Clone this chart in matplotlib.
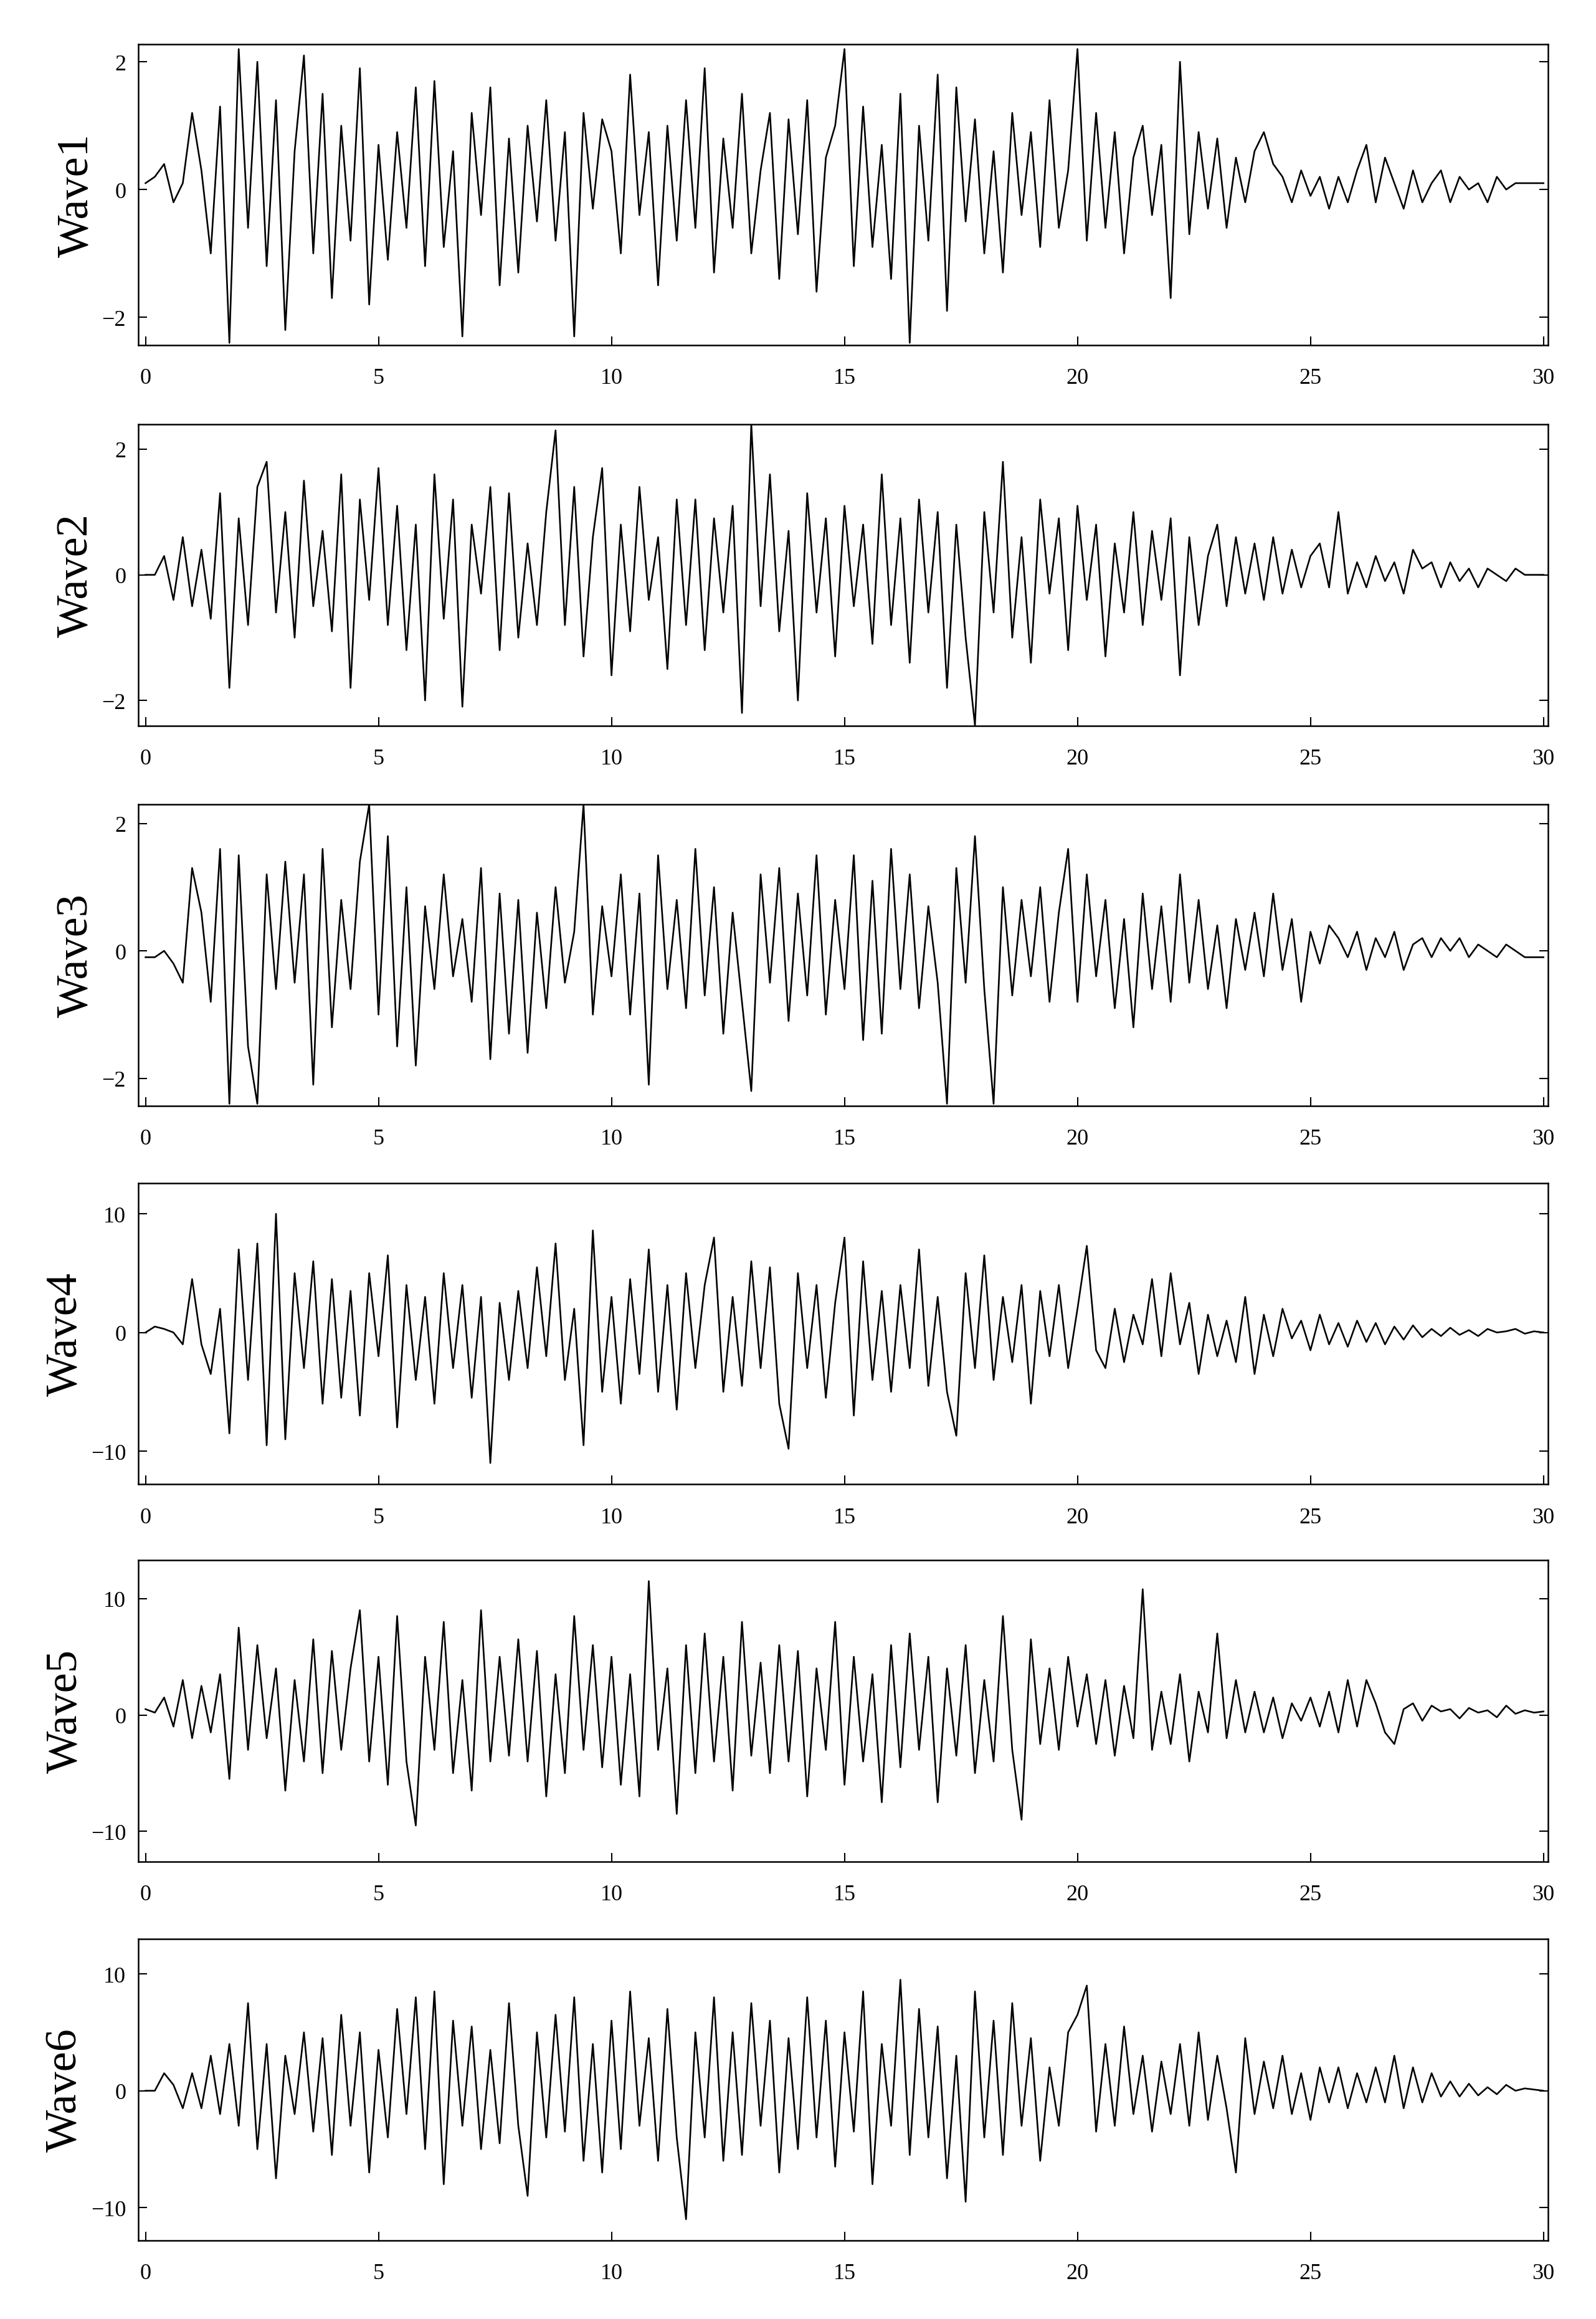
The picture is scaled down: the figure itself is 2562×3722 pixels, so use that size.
import numpy as np
import matplotlib.pyplot as plt

t = np.round(np.arange(0, 30.01, 0.2), 2)

wave1 = [0.1,0.2,0.4,-0.2,0.1,1.2,0.3,-1.0,1.3,-2.4,
         2.2,-0.6,2.0,-1.2,1.4,-2.2,0.6,2.1,-1.0,1.5,
         -1.7,1.0,-0.8,1.9,-1.8,0.7,-1.1,0.9,-0.6,1.6,
         -1.2,1.7,-0.9,0.6,-2.3,1.2,-0.4,1.6,-1.5,0.8,
         -1.3,1.0,-0.5,1.4,-0.8,0.9,-2.3,1.2,-0.3,1.1,
         0.6,-1.0,1.8,-0.4,0.9,-1.5,1.0,-0.8,1.4,-0.6,
         1.9,-1.3,0.8,-0.6,1.5,-1.0,0.3,1.2,-1.4,1.1,
         -0.7,1.4,-1.6,0.5,1.0,2.2,-1.2,1.3,-0.9,0.7,
         -1.4,1.5,-2.4,1.0,-0.8,1.8,-1.9,1.6,-0.5,1.1,
         -1.0,0.6,-1.3,1.2,-0.4,0.9,-0.9,1.4,-0.6,0.3,
         2.2,-0.8,1.2,-0.6,0.9,-1.0,0.5,1.0,-0.4,0.7,
         -1.7,2.0,-0.7,0.9,-0.3,0.8,-0.6,0.5,-0.2,0.6,
         0.9,0.4,0.2,-0.2,0.3,-0.1,0.2,-0.3,0.2,-0.2,
         0.3,0.7,-0.2,0.5,0.1,-0.3,0.3,-0.2,0.1,0.3,
         -0.2,0.2,0.0,0.1,-0.2,0.2,0.0,0.1,0.1,0.1,
         0.1]
wave2 = [0.0,0.0,0.3,-0.4,0.6,-0.5,0.4,-0.7,1.3,-1.8,
         0.9,-0.8,1.4,1.8,-0.6,1.0,-1.0,1.5,-0.5,0.7,
         -0.9,1.6,-1.8,1.2,-0.4,1.7,-0.8,1.1,-1.2,0.8,
         -2.0,1.6,-0.7,1.2,-2.1,0.8,-0.3,1.4,-1.2,1.3,
         -1.0,0.5,-0.8,1.0,2.3,-0.8,1.4,-1.3,0.6,1.7,
         -1.6,0.8,-0.9,1.4,-0.4,0.6,-1.5,1.2,-0.8,1.2,
         -1.2,0.9,-0.6,1.1,-2.2,2.4,-0.5,1.6,-0.9,0.7,
         -2.0,1.3,-0.6,0.9,-1.3,1.1,-0.5,0.8,-1.1,1.6,
         -0.8,0.9,-1.4,1.2,-0.6,1.0,-1.8,0.8,-1.0,-2.4,
         1.0,-0.6,1.8,-1.0,0.6,-1.4,1.2,-0.3,0.9,-1.2,
         1.1,-0.4,0.8,-1.3,0.5,-0.6,1.0,-0.8,0.7,-0.4,
         0.9,-1.6,0.6,-0.8,0.3,0.8,-0.5,0.6,-0.3,0.5,
         -0.4,0.6,-0.3,0.4,-0.2,0.3,0.5,-0.2,1.0,-0.3,
         0.2,-0.2,0.3,-0.1,0.2,-0.3,0.4,0.1,0.2,-0.2,
         0.2,-0.1,0.1,-0.2,0.1,0.0,-0.1,0.1,0.0,0.0,
         0.0]
wave3 = [-0.1,-0.1,0.0,-0.2,-0.5,1.3,0.6,-0.8,1.6,-2.4,
         1.5,-1.5,-2.4,1.2,-0.6,1.4,-0.5,1.2,-2.1,1.6,
         -1.2,0.8,-0.6,1.4,2.3,-1.0,1.8,-1.5,1.0,-1.8,
         0.7,-0.6,1.2,-0.4,0.5,-0.8,1.3,-1.7,0.9,-1.3,
         0.8,-1.6,0.6,-0.9,1.0,-0.5,0.3,2.3,-1.0,0.7,
         -0.4,1.2,-1.0,0.9,-2.1,1.5,-0.6,0.8,-0.9,1.6,
         -0.7,1.0,-1.3,0.6,-0.8,-2.2,1.2,-0.5,1.3,-1.1,
         0.9,-0.7,1.5,-1.0,0.8,-0.6,1.5,-1.4,1.1,-1.3,
         1.6,-0.6,1.2,-0.9,0.7,-0.5,-2.4,1.3,-0.5,1.8,
         -0.6,-2.4,1.0,-0.7,0.8,-0.4,1.0,-0.8,0.6,1.6,
         -0.8,1.2,-0.4,0.8,-0.9,0.5,-1.2,0.9,-0.6,0.7,
         -0.8,1.2,-0.5,0.8,-0.6,0.4,-0.9,0.5,-0.3,0.6,
         -0.4,0.9,-0.3,0.5,-0.8,0.3,-0.2,0.4,0.2,-0.1,
         0.3,-0.3,0.2,-0.1,0.3,-0.3,0.1,0.2,-0.1,0.2,
         0.0,0.2,-0.1,0.1,0.0,-0.1,0.1,0.0,-0.1,-0.1,
         -0.1]
wave4 = [0.0,0.5,0.3,0.0,-1.0,4.5,-1.0,-3.5,2.0,-8.5,
         7.0,-4.0,7.5,-9.5,10.0,-9.0,5.0,-3.0,6.0,-6.0,
         4.5,-5.5,3.5,-7.0,5.0,-2.0,6.5,-8.0,4.0,-4.0,
         3.0,-6.0,5.0,-3.0,4.0,-5.5,3.0,-11.0,2.5,-4.0,
         3.5,-3.0,5.5,-2.0,7.5,-4.0,2.0,-9.5,8.6,-5.0,
         3.0,-6.0,4.5,-3.5,7.0,-5.0,4.0,-6.5,5.0,-3.0,
         4.0,8.0,-5.0,3.0,-4.5,6.0,-3.0,5.5,-6.0,-9.8,
         5.0,-3.0,4.0,-5.5,2.5,8.0,-7.0,6.0,-4.0,3.5,
         -5.0,4.0,-3.0,7.0,-4.5,3.0,-5.0,-8.7,5.0,-3.0,
         6.5,-4.0,3.0,-2.5,4.0,-6.0,3.5,-2.0,4.0,-3.0,
         2.0,7.3,-1.5,-3.0,2.0,-2.5,1.5,-1.0,4.5,-2.0,
         5.0,-1.0,2.5,-3.5,1.5,-2.0,1.0,-2.5,3.0,-3.5,
         1.5,-2.0,2.0,-0.5,1.0,-1.5,1.5,-1.0,0.8,-1.2,
         1.0,-0.8,0.8,-1.0,0.5,-0.6,0.6,-0.4,0.3,-0.3,
         0.4,-0.2,0.2,-0.3,0.3,0.0,0.1,0.3,-0.1,0.1,
         0.0]
wave5 = [0.5,0.2,1.5,-1.0,3.0,-2.0,2.5,-1.5,3.5,-5.5,
         7.5,-3.0,6.0,-2.0,4.0,-6.5,3.0,-4.0,6.5,-5.0,
         5.5,-3.0,4.0,9.0,-4.0,5.0,-6.0,8.5,-4.0,-9.5,
         5.0,-3.0,8.0,-5.0,3.0,-6.5,9.0,-4.0,5.0,-3.5,
         6.5,-4.0,5.5,-7.0,3.5,-5.0,8.5,-3.0,6.0,-4.5,
         5.0,-6.0,3.5,-7.0,11.5,-3.0,4.0,-8.5,6.0,-5.0,
         7.0,-4.0,5.0,-6.5,8.0,-3.5,4.5,-5.0,6.0,-4.0,
         5.5,-7.0,4.0,-3.0,8.0,-6.0,5.0,-4.0,3.5,-7.5,
         6.0,-4.5,7.0,-3.0,5.0,-7.5,4.0,-3.5,6.0,-5.0,
         3.0,-4.0,8.5,-3.0,-9.0,6.5,-2.5,4.0,-3.0,5.0,
         -1.0,3.5,-2.5,3.0,-3.5,2.5,-2.0,10.8,-3.0,2.0,
         -2.5,3.5,-4.0,2.0,-1.5,7.0,-2.0,3.0,-1.5,2.0,
         -1.5,1.5,-2.0,1.0,-0.5,1.5,-1.0,2.0,-1.5,3.0,
         -1.0,3.0,1.0,-1.5,-2.5,0.5,1.0,-0.5,0.8,0.3,
         0.5,-0.3,0.6,0.2,0.4,-0.2,0.8,0.1,0.4,0.2,
         0.3]
wave6 = [0.0,0.0,1.5,0.5,-1.5,1.5,-1.5,3.0,-2.0,4.0,
         -3.0,7.5,-5.0,4.0,-7.5,3.0,-2.0,5.0,-3.5,4.5,
         -5.5,6.5,-3.0,5.0,-7.0,3.5,-4.0,7.0,-2.0,8.0,
         -5.0,8.5,-8.0,6.0,-3.0,5.5,-5.0,3.5,-4.5,7.5,
         -3.0,-9.0,5.0,-4.0,6.5,-3.5,8.0,-6.0,4.0,-7.0,
         6.0,-5.0,8.5,-3.0,4.5,-6.0,7.0,-4.0,-11.0,5.0,
         -4.0,8.0,-6.0,5.0,-5.5,7.5,-3.0,6.0,-7.0,4.5,
         -5.0,8.0,-4.0,6.0,-6.5,5.0,-3.5,8.5,-8.0,4.0,
         -3.0,9.5,-5.5,7.0,-4.0,5.5,-7.5,3.0,-9.5,8.5,
         -4.0,6.0,-5.5,7.5,-3.0,4.5,-6.0,2.0,-3.0,5.0,
         6.5,9.0,-3.5,4.0,-3.0,5.5,-2.0,3.0,-3.5,2.5,
         -2.0,4.0,-3.0,5.0,-2.5,3.0,-1.5,-7.0,4.5,-2.0,
         2.5,-1.5,3.0,-2.0,1.5,-2.5,2.0,-1.0,2.0,-1.5,
         1.5,-1.0,2.0,-1.0,3.0,-1.5,2.0,-1.0,1.5,-0.5,
         0.8,-0.5,0.6,-0.4,0.3,-0.3,0.5,0.0,0.2,0.1,
         0.0]

waves = [wave1, wave2, wave3, wave4, wave5, wave6]
names = ["Wave1", "Wave2", "Wave3", "Wave4", "Wave5", "Wave6"]
ylims = [(-2.44, 2.28), (-2.4, 2.4), (-2.43, 2.3), (-12.8, 12.6), (-12.6, 13.3), (-12.8, 13.0)]
yticks = [[-2, 0, 2]] * 3 + [[-10, 0, 10]] * 3

plt.rcParams['font.family'] = ['Liberation Serif', 'DejaVu Serif']
fig = plt.figure(figsize=(25.62, 37.23), dpi=100)

tops = [30, 286, 542, 797, 1051, 1306]
for i in range(6):
    top = 1 - tops[i] / 1562
    h = 203 / 1562
    ax = fig.add_axes([0.0865, top - h, 0.8835, h])
    ax.plot(t, waves[i], color='black', linewidth=1.9)
    ax.set_xlim(-0.16, 30.1)
    ax.set_ylim(*ylims[i])
    ax.set_xticks([0, 5, 10, 15, 20, 25, 30])
    ax.set_yticks(yticks[i])
    ax.tick_params(direction='in', top=False, right=True, labelsize=26, length=10, width=1.5)
    ax.tick_params(axis='x', pad=26)
    ax.tick_params(axis='y', pad=14)
    for s in ax.spines.values():
        s.set_linewidth(1.8)
    ax.set_ylabel(names[i], fontsize=52, labelpad=6)

fig.savefig("out.png", dpi=100)
